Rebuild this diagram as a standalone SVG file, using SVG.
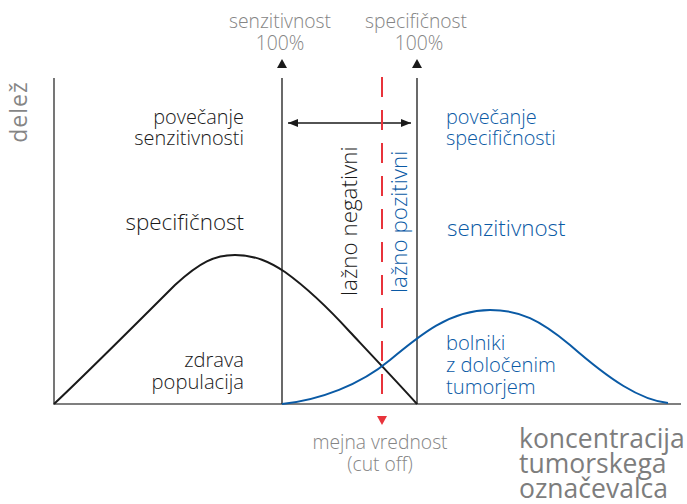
<svg xmlns="http://www.w3.org/2000/svg" width="687" height="504" viewBox="0 0 687 504">
<style>
text{font-family:"Open Sans","Noto Sans","Liberation Sans",sans-serif;font-weight:300}
.g{fill:#858585}
.k{fill:#1a1a1a}
.b{fill:#0a5aa5}
.s16{font-size:19.3px}
.s17{font-size:19.9px}
.s18{font-size:20.2px}
.s20{font-size:22.4px}
.s25{font-size:26.5px;font-weight:400;fill:#7d7d7d}
.ax{stroke:#555;stroke-width:1.6;fill:none}
.vl{stroke:#1a1a1a;stroke-width:1.3;fill:none}
</style>
<defs>
<marker id="ah" viewBox="0 0 10 10" refX="10" refY="5" markerWidth="10" markerHeight="10" markerUnits="userSpaceOnUse" orient="auto-start-reverse"><path d="M0,1 L10,5 L0,9 Z" fill="#1a1a1a"/></marker>
</defs>
<g id="axes">
<path class="ax" d="M54,78 V404 H681"/>
</g>
<g id="connectors">
<line class="vl" x1="282" y1="78" x2="282" y2="404"/>
<path d="M277,68 L282,59 L287,68 Z" fill="#1a1a1a"/>
<line class="vl" x1="417" y1="78" x2="417" y2="404"/>
<path d="M412,68 L417,59 L422,68 Z" fill="#1a1a1a"/>
<line x1="288" y1="123" x2="411" y2="123" stroke="#1a1a1a" stroke-width="1.3" marker-start="url(#ah)" marker-end="url(#ah)"/>
<line x1="382" y1="77" x2="382" y2="404" stroke="#e8333b" stroke-width="2" stroke-dasharray="20,13"/>
<path d="M377,416 L387,416 L382,425 Z" fill="#e8333b"/>
</g>
<g id="curves">
<path d="M54,404 C90,370 140,320 175,285 C200,262 215,255 235,255 C255,255 270,262 285,272 C310,290 330,310 350,332 C365,348 400,385 417,404" fill="none" stroke="#1a1a1a" stroke-width="2"/>
<path d="M282,404 C320,400 360,385 390,360 C420,335 450,310 490,310 C520,310 540,320 570,345 C610,380 640,400 668,403" fill="none" stroke="#0a5aa5" stroke-width="2"/>
</g>
<g id="label-top-sens">
<text class="g s16" x="280" y="28" text-anchor="middle">senzitivnost</text>
<text class="g s16" x="280" y="50" text-anchor="middle">100%</text>
</g>
<g id="label-top-spec">
<text class="g s16" x="416" y="28" text-anchor="middle">specifičnost</text>
<text class="g s16" x="419" y="50" text-anchor="middle">100%</text>
</g>
<g id="label-delez">
<text class="g" style="font-size:23px;font-weight:400;letter-spacing:1px" transform="translate(27,112) rotate(-90)" text-anchor="middle">delež</text>
</g>
<g id="label-pov-sens">
<text class="k s17" x="244" y="124" text-anchor="end">povečanje</text>
<text class="k s17" x="244" y="145" text-anchor="end">senzitivnosti</text>
</g>
<g id="label-pov-spec">
<text class="b s17" x="446" y="124">povečanje</text>
<text class="b s17" x="446" y="145">specifičnosti</text>
</g>
<g id="label-spec">
<text class="k s20" x="244" y="230" text-anchor="end">specifičnost</text>
</g>
<g id="label-sens">
<text class="b s20" x="447" y="236">senzitivnost</text>
</g>
<g id="label-ln">
<text class="k s20" transform="translate(357,296) rotate(-90)">lažno negativni</text>
</g>
<g id="label-lp">
<text class="b s20" transform="translate(407,293) rotate(-90)">lažno pozitivni</text>
</g>
<g id="label-zdrava">
<text class="k s18" x="244" y="367" text-anchor="end">zdrava</text>
<text class="k s18" x="244" y="389" text-anchor="end">populacija</text>
</g>
<g id="label-bolniki">
<text class="b s18" x="446" y="350">bolniki</text>
<text class="b s18" x="446" y="372">z določenim</text>
<text class="b s18" x="446" y="394">tumorjem</text>
</g>
<g id="label-mejna">
<text class="g s16" x="380" y="449" text-anchor="middle">mejna vrednost</text>
<text class="g s16" x="380" y="471" text-anchor="middle">(cut off)</text>
</g>
<g id="label-konc">
<text class="s25" x="519" y="448">koncentracija</text>
<text class="s25" x="519" y="473">tumorskega</text>
<text class="s25" x="519" y="498">označevalca</text>
</g>
</svg>
